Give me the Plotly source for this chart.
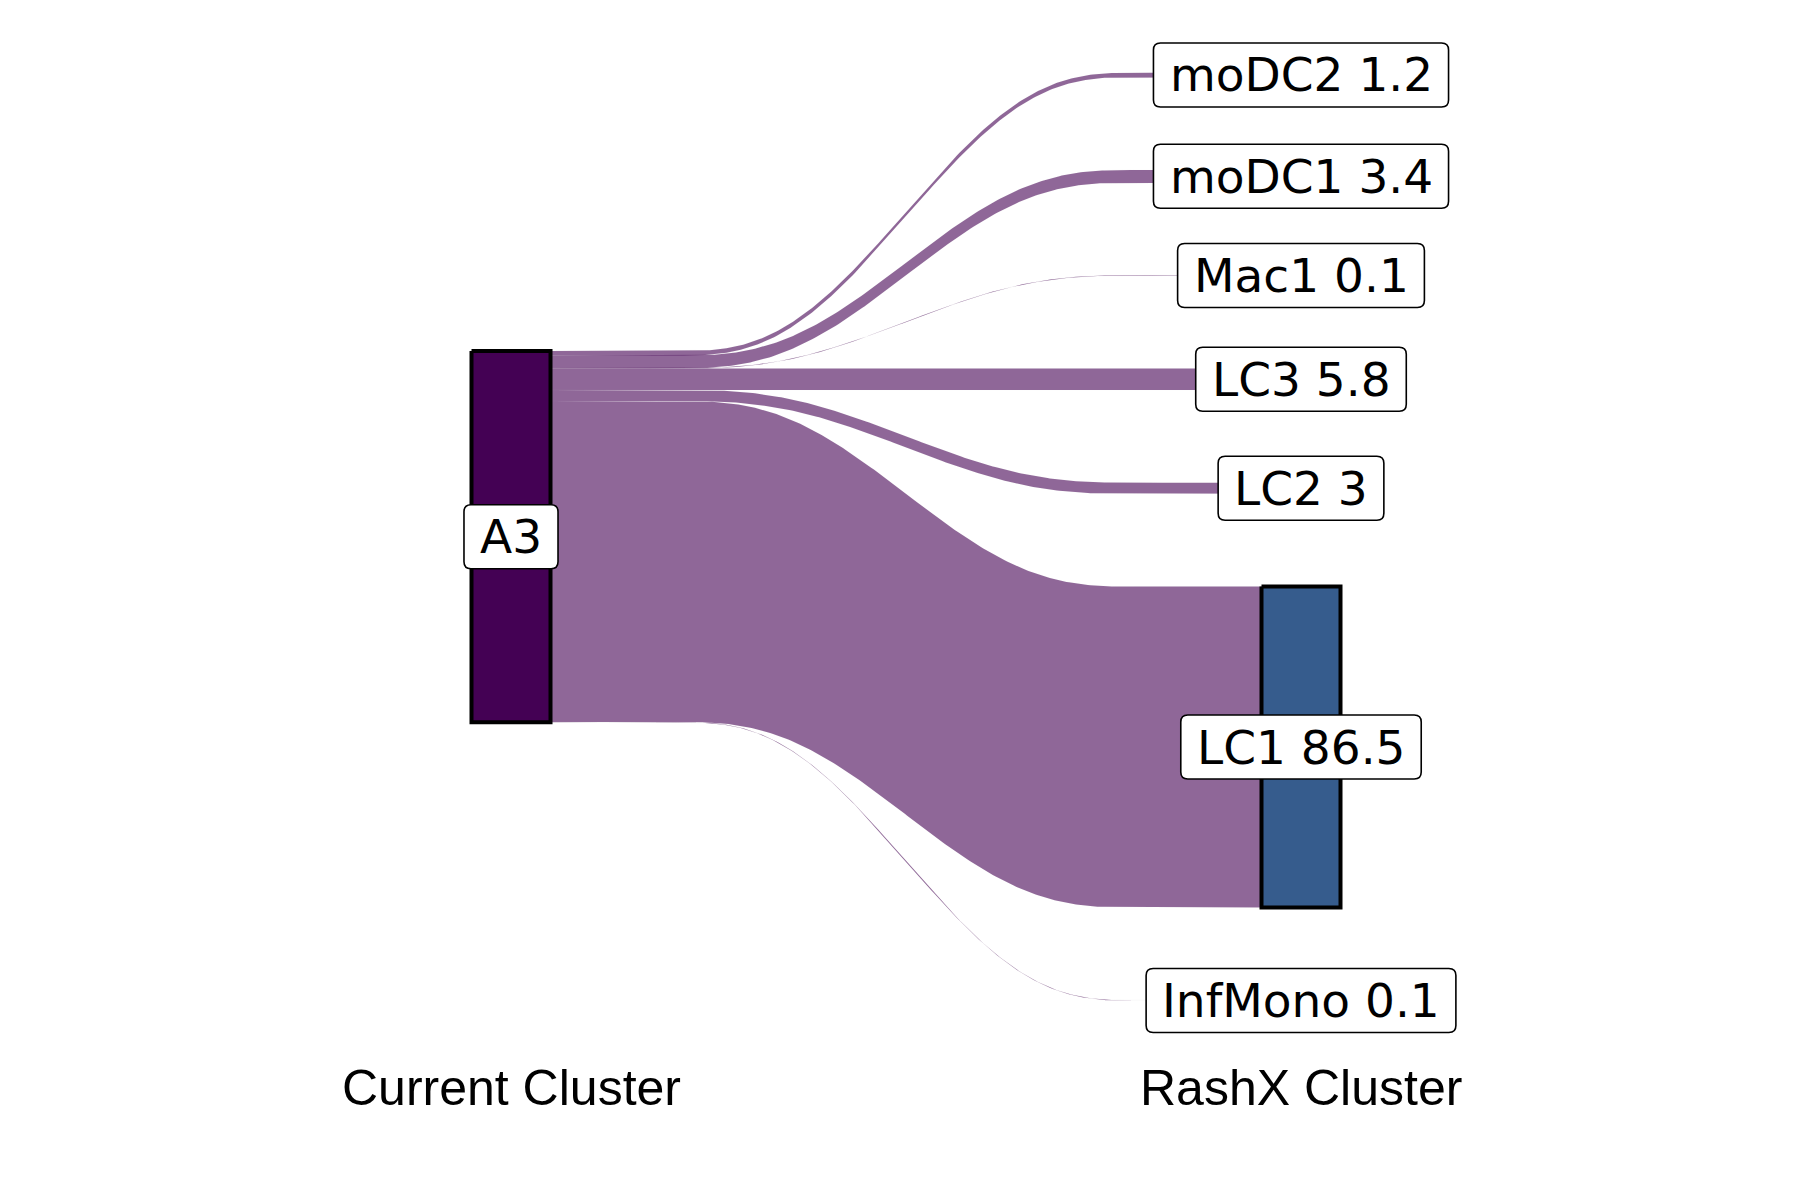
import numpy as np
import plotly.graph_objects as go

# ---- data ----
source_label = "A3"
target_labels = ["moDC2", "moDC1", "Mac1", "LC3", "LC2", "LC1", "InfMono"]
percent = [1.2, 3.4, 0.1, 5.8, 3, 86.5, 0.1]
axis_titles = ["Current Cluster", "RashX Cluster"]

# ---- styling / layout parameters ----
GAP = 25.0          # vertical gap between right-hand strata (data units)
W = 0.1             # stratum width (x data units)
FLOW_COLOR = "rgba(68,1,84,0.6)"
SRC_COLOR = "#440154"
TGT_COLORS = ["#46337E", "#3F4889", "#365C8D", "#2E6E8E", "#277F8E", "#365C8D", "#FDE725"]
X1_PX, Y0_PX, PX_PER_X, PX_PER_Y = 503, 343, 790, 3.71
FONT_SIZE = 47

# approximate DejaVu Sans advance widths (em) for label box sizing
DV_W = {"m": .974, "o": .612, "D": .770, "C": .698, "M": .863, "a": .613, "c": .550,
        "L": .557, "A": .684, "I": .295, "n": .634, "f": .352, " ": .318, ".": .318}
def text_px(s):
    return sum(DV_W.get(ch, .636) for ch in s) * FONT_SIZE

def smooth(t):
    u = np.clip((t - 0.18) / 0.64, 0, 1)
    return 6 * u**5 - 15 * u**4 + 10 * u**3

total = float(sum(percent))
left_top = np.concatenate([[0], np.cumsum(percent)[:-1]])
left_bot = left_top + np.array(percent)

right_total = total + GAP * (len(percent) - 1)
start = total / 2 - right_total / 2
right_top = []
cur = start
for p in percent:
    right_top.append(cur)
    cur += p + GAP
right_top = np.array(right_top)
right_bot = right_top + np.array(percent)

fig = go.Figure()

x0, x1 = 1 + W / 2, 2 - W / 2
t = np.linspace(0, 1, 300)
xs = x0 + (x1 - x0) * t
for i, p in enumerate(percent):
    s = smooth(t)
    top = left_top[i] + (right_top[i] - left_top[i]) * s
    bot = left_bot[i] + (right_bot[i] - left_bot[i]) * s
    fig.add_trace(go.Scatter(
        x=np.concatenate([xs, xs[::-1]]),
        y=np.concatenate([top, bot[::-1]]),
        fill="toself", fillcolor=FLOW_COLOR, mode="lines",
        line=dict(width=0.1, color="rgba(200,200,200,0.5)"),
        hoverinfo="skip", showlegend=False))

def add_rect(xc, y0, y1, color):
    fig.add_trace(go.Scatter(
        x=[xc - W / 2, xc + W / 2, xc + W / 2, xc - W / 2, xc - W / 2],
        y=[y0, y0, y1, y1, y0],
        fill="toself", fillcolor=color, mode="lines",
        line=dict(color="black", width=4),
        hoverinfo="skip", showlegend=False))

add_rect(1, 0, total, SRC_COLOR)
for i, p in enumerate(percent):
    add_rect(2, right_top[i], right_bot[i], TGT_COLORS[i])

shapes = []
annos = []

def add_label(xc, yc, text):
    wpx = text_px(text) + 32
    hpx = 64
    r = 7
    hw, hh = wpx / 2 / PX_PER_X, hpx / 2 / PX_PER_Y
    rx, ry = r / PX_PER_X, r / PX_PER_Y
    L, R, T, B = xc - hw, xc + hw, yc - hh, yc + hh
    path = (f"M {L+rx},{T} L {R-rx},{T} Q {R},{T} {R},{T+ry} "
            f"L {R},{B-ry} Q {R},{B} {R-rx},{B} L {L+rx},{B} "
            f"Q {L},{B} {L},{B-ry} L {L},{T+ry} Q {L},{T} {L+rx},{T} Z")
    shapes.append(dict(type="path", path=path, xref="x", yref="y", layer="above",
                       fillcolor="white", line=dict(color="black", width=1.6)))
    annos.append(dict(x=xc, y=yc, text=text, showarrow=False,
                      font=dict(family="DejaVu Sans", size=FONT_SIZE, color="black"),
                      xref="x", yref="y"))

add_label(1, total / 2, source_label)
for i, p in enumerate(percent):
    add_label(2, (right_top[i] + right_bot[i]) / 2, f"{target_labels[i]} {p:g}")

for j, title in enumerate(axis_titles):
    annos.append(dict(x=j + 1, y=198.7, text=title, showarrow=False,
                      font=dict(family="Liberation Sans, Arial", size=50, color="black"),
                      xref="x", yref="y"))

fig.update_layout(
    width=1800, height=1200,
    margin=dict(l=0, r=0, t=0, b=0),
    paper_bgcolor="white", plot_bgcolor="white",
    annotations=annos, shapes=shapes,
    xaxis=dict(range=[1 - X1_PX / PX_PER_X, 1 + (1800 - X1_PX) / PX_PER_X],
               visible=False, fixedrange=True),
    yaxis=dict(range=[(1200 - Y0_PX) / PX_PER_Y, -Y0_PX / PX_PER_Y],
               visible=False, fixedrange=True),
)

fig.write_html("out.html")
